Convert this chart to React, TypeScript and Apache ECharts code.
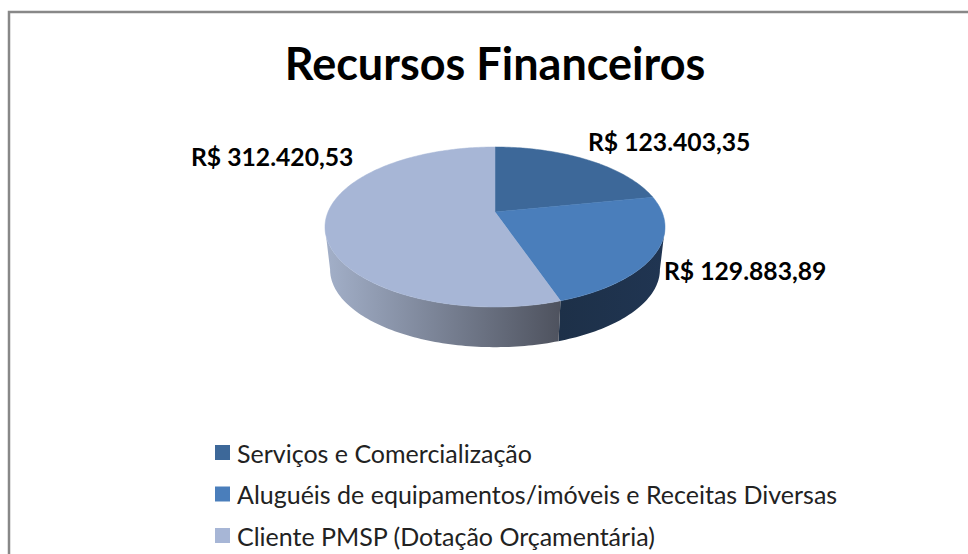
import React, { useEffect, useRef } from "react";
import * as echarts from "echarts";

const titleText = "Recursos Financeiros";
const categories = [
  "Serviços e Comercialização",
  "Aluguéis de equipamentos/imóveis e Receitas Diversas",
  "Cliente PMSP (Dotação Orçamentária)",
];
const values = [123403.35, 129883.89, 312420.53];
const topColors = ["#3d6899", "#4a7ebb", "#a7b6d6"];
const wallStops = [
  ["#1f3350", "#1f3350"],
  ["#1d3048", "#203552"],
  ["#a3b0c9", "#4e525e"],
];
const labelPositions = [
  [588, 141],
  [664, 270],
  [191, 156],
];

const FONT = "Lato";
const total = values.reduce((a, b) => a + b, 0);
const fmt = (v: number) => {
  const [i, d] = v.toFixed(2).split(".");
  return "R$ " + i.replace(/\B(?=(\d{3})+(?!\d))/g, ".") + "," + d;
};

// Perspective projection of the pie's circle on to the picture
const TILT = 0.1875;
const project = (t: number, scale: number, dy: number) => {
  const u = Math.sin(t);
  const v = Math.cos(t);
  const w = 1 + TILT * v;
  return [495 + (scale * 167 * u) / w, 212 - (scale * 77.2 * v) / w + dy];
};

const arcPoints = (a: number, b: number, scale: number, dy: number) => {
  const n = Math.max(2, Math.ceil((b - a) / 0.02));
  const pts: number[][] = [];
  for (let i = 0; i <= n; i++) pts.push(project(a + ((b - a) * i) / n, scale, dy));
  return pts;
};

// Angles between which the outer wall faces the viewer
const WALL_FROM = Math.acos(-TILT);
const WALL_TO = Math.PI * 2 - WALL_FROM;

const makeSeries = (index: number) => {
  const before = values.slice(0, index).reduce((a, b) => a + b, 0);
  const a = (before / total) * Math.PI * 2;
  const b = ((before + values[index]) / total) * Math.PI * 2;
  return {
    type: "custom",
    name: categories[index],
    coordinateSystem: "none",
    silent: true,
    itemStyle: { color: topColors[index] },
    data: [[values[index]]],
    renderItem: () => {
      const top = arcPoints(a, b, 1, 0);
      const wa = Math.max(a, WALL_FROM);
      const wb = Math.min(b, WALL_TO);
      const children: any[] = [];
      if (wb > wa) {
        const wallTop = arcPoints(wa, wb, 1, 0);
        const wallBottom = arcPoints(wa, wb, 0.97, 43);
        children.push({
          type: "polygon",
          z2: 1,
          shape: { points: [...wallTop, ...wallBottom.reverse()] },
          style: {
            fill: new echarts.graphic.LinearGradient(0, 0, 1, 0, [
              { offset: 0, color: wallStops[index][0] },
              { offset: 1, color: wallStops[index][1] },
            ]),
          },
        });
      }
      children.push({
        type: "polygon",
        z2: 2,
        shape: { points: [[495, 212], ...top] },
        style: { fill: topColors[index], stroke: topColors[index], lineWidth: 0.5 },
      });
      return { type: "group", children };
    },
  };
};

export default function App() {
  const ref = useRef<HTMLDivElement>(null);
  useEffect(() => {
    document.body.style.margin = "0";
    const chart = echarts.init(ref.current!, undefined, { renderer: "svg" });
    chart.setOption({
      animation: false,
      backgroundColor: "#ffffff",
      title: {
        text: titleText,
        left: 495,
        textAlign: "center",
        top: 35,
        padding: [5, 11, 5, 0],
        textStyle: { fontFamily: FONT, fontWeight: "bold", fontSize: 45, color: "#000000" },
      },
      legend: {
        orient: "vertical",
        left: 210,
        top: 435,
        icon: "rect",
        itemWidth: 15,
        itemHeight: 15,
        itemGap: 16.5,
        selectedMode: false,
        data: categories,
        textStyle: { fontFamily: FONT, fontSize: 25, color: "#222222", padding: [0, 0, 0, 2] },
      },
      graphic: [
        {
          type: "rect",
          silent: true,
          shape: { x: 9, y: 12, width: 1000, height: 600 },
          style: { fill: "none", stroke: "#888888", lineWidth: 2.5 },
          z: -1,
        },
        ...values.map((v, i) => ({
          type: "text",
          x: labelPositions[i][0],
          y: labelPositions[i][1],
          style: {
            text: fmt(v),
            fontFamily: FONT,
            fontWeight: "bold",
            fontSize: 24.7,
            fill: "#000000",
            textVerticalAlign: "middle",
          },
        })),
      ],
      series: values.map((_, i) => makeSeries(i)),
    });
    return () => chart.dispose();
  }, []);
  return <div ref={ref} style={{ width: 968, height: 554 }} />;
}
